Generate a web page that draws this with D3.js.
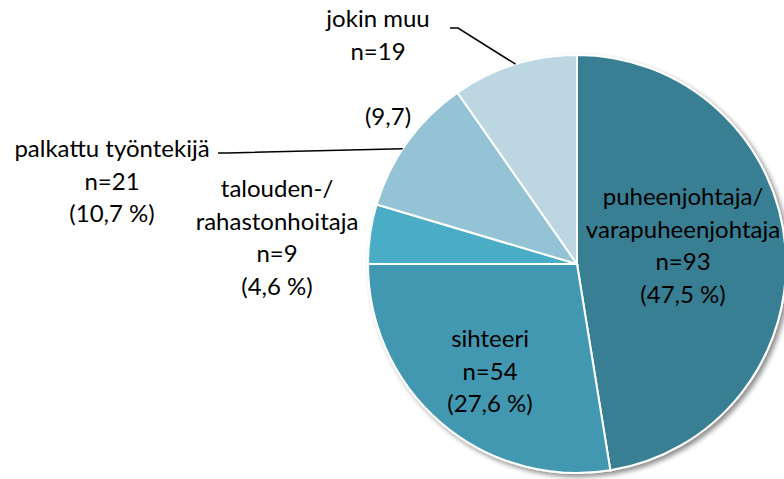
<!DOCTYPE html>
<html>
<head>
<meta charset="utf-8">
<script src="https://cdn.jsdelivr.net/npm/d3@7"></script>
<style>
  body { margin: 0; background: #fff; }
  text { font-family: Lato, "Open Sans", sans-serif; font-size: 24px; fill: #000; }
</style>
</head>
<body>
<div id="graf"></div>
<script>
// datos del grafico
const categorias = ["puheenjohtaja/ varapuheenjohtaja", "sihteeri", "talouden-/ rahastonhoitaja", "palkattu työntekijä", "jokin muu"];
const valores = [93, 54, 9, 21, 19];
const colores = ["#387f93", "#4398b0", "#4bacc6", "#93c3d5", "#bcd7e2"];
// lineas de cada etiqueta
const etiquetasTexto = [
  ["puheenjohtaja/", "varapuheenjohtaja", "n=93", "(47,5 %)"],
  ["sihteeri", "n=54", "(27,6 %)"],
  ["talouden-/", "rahastonhoitaja", "n=9", "(4,6 %)"],
  ["palkattu työntekijä", "n=21", "(10,7 %)"],
  ["jokin muu", "n=19", "", "(9,7)"]
];

const anchoTotal = 784;
const altoTotal = 479;
const cx = 577, cy = 264, radio = 209;

const svg = d3.select("#graf")
  .append("svg")
  .attr("width", anchoTotal)
  .attr("height", altoTotal);

// sombra
const defs = svg.append("defs");
const filtro = defs.append("filter").attr("id", "sombra")
  .attr("x", "-10%").attr("y", "-10%").attr("width", "130%").attr("height", "130%");
filtro.append("feGaussianBlur").attr("in", "SourceAlpha").attr("stdDeviation", 2.5);
filtro.append("feOffset").attr("dx", 3).attr("dy", 3).attr("result", "b");
filtro.append("feComponentTransfer").append("feFuncA").attr("type", "linear").attr("slope", 0.45);
const merge = filtro.append("feMerge");
merge.append("feMergeNode");
merge.append("feMergeNode").attr("in", "SourceGraphic");

const g = svg.append("g").attr("transform", `translate(${cx}, ${cy})`);

const pie = d3.pie().sort(null).value((d) => d)(valores);
const arco = d3.arc().innerRadius(0).outerRadius(radio);

g.append("g").attr("filter", "url(#sombra)")
  .selectAll("path")
  .data(pie)
  .enter()
  .append("path")
  .attr("d", arco)
  .attr("fill", (d, i) => colores[i])
  .attr("stroke", "#fff")
  .attr("stroke-width", 2);

// posiciones de etiquetas (relativas al centro)
const posEtiquetas = [
  [106, -59],
  [-87, 83],
  [-300, -67],
  [-465, -107],
  [-199, -237]
];
const interlinea = 32.5;

etiquetasTexto.forEach((lineas, i) => {
  const t = g.append("text").attr("text-anchor", "middle");
  lineas.forEach((l, j) => {
    let x = posEtiquetas[i][0];
    if (i === 4 && j === 3) x = -189;
    t.append("tspan")
      .attr("x", x)
      .attr("y", posEtiquetas[i][1] + j * interlinea)
      .text(l);
  });
});

// lineas guia
const puntoEnArco = (d, f) => {
  const a = d.startAngle + (d.endAngle - d.startAngle) * f;
  return [Math.sin(a) * radio, -Math.cos(a) * radio];
};
const pJokin = puntoEnArco(pie[4], 0.51);
g.append("polyline")
  .attr("points", [[-127, -236], [-119, -236], pJokin].map((p) => p.join(",")).join(" "))
  .attr("fill", "none").attr("stroke", "#000").attr("stroke-width", 1.5);
const pPalk = puntoEnArco(pie[3], 0.44);
g.append("polyline")
  .attr("points", [[-359, -111], [-349, -111], pPalk].map((p) => p.join(",")).join(" "))
  .attr("fill", "none").attr("stroke", "#000").attr("stroke-width", 1.5);
</script>
</body>
</html>
